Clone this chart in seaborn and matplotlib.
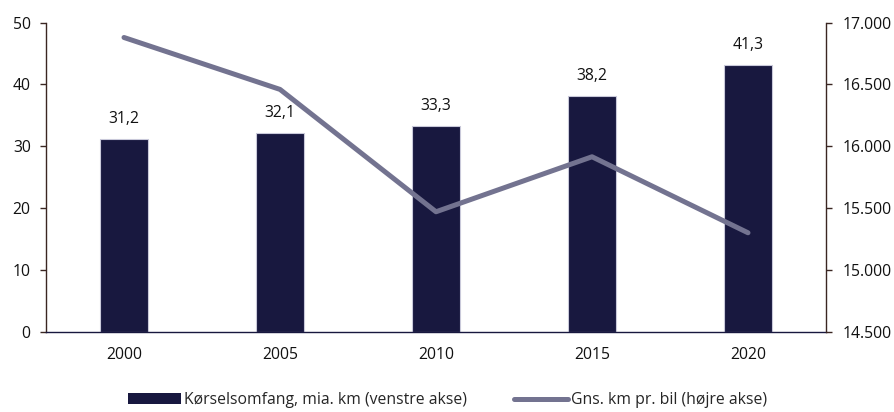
import matplotlib
matplotlib.use("Agg")
import matplotlib.pyplot as plt
import seaborn as sns
import pandas as pd
from matplotlib.patches import Patch
from matplotlib.lines import Line2D
from matplotlib.ticker import FuncFormatter, MultipleLocator

# Data
years = ["2000", "2005", "2010", "2015", "2020"]
driving_bn_km = [31.2, 32.1, 33.3, 38.2, 43.1]          # bar heights (left axis)
bar_texts = ["31,2", "32,1", "33,3", "38,2", "41,3"]     # labels as printed
km_per_car = [16880, 16460, 15470, 15915, 15300]        # line (right axis)

bar_color = "#18183f"
line_color = "#737390"
spine_color = "#3a2622"
fs = 11.3

sns.set_theme(style="white")
plt.rcParams["font.family"] = ["Open Sans", "DejaVu Sans"]

df = pd.DataFrame({"year": years, "driving": driving_bn_km, "km": km_per_car})

fig = plt.figure(figsize=(8.95, 4.12), dpi=100)
ax = fig.add_axes([0.0514, 0.195, 0.8715, 0.750])

sns.barplot(data=df, x="year", y="driving", color=bar_color, saturation=1,
            width=0.31, edgecolor="#c9c9da", linewidth=0.8, ax=ax)
ax.bar_label(ax.containers[0], labels=bar_texts, padding=8.5, fontsize=fs,
             color="#111111")

ax.set_ylim(0, 50)
ax.yaxis.set_major_locator(MultipleLocator(10))
ax.set_xlabel("")
ax.set_ylabel("")

ax2 = ax.twinx()
sns.pointplot(data=df, x="year", y="km", color=line_color, markers="",
              linewidth=3.6, ax=ax2)
ax2.lines[0].set_solid_capstyle("round")
ax2.set_ylim(14500, 17000)
ax2.yaxis.set_major_locator(MultipleLocator(500))
ax2.yaxis.set_major_formatter(FuncFormatter(lambda v, p: f"{int(v):,}".replace(",", ".")))
ax2.set_ylabel("")
ax2.set_xlabel("")
ax.set_xlim(-0.5, 4.5)

for a in (ax, ax2):
    for s in a.spines.values():
        s.set_visible(False)
ax.spines["left"].set_visible(True)
ax.spines["left"].set_color(spine_color)
ax.spines["left"].set_linewidth(1.0)
ax.spines["bottom"].set_visible(True)
ax.spines["bottom"].set_color(bar_color)
ax.spines["bottom"].set_linewidth(1.0)
ax2.spines["right"].set_visible(True)
ax2.spines["right"].set_color(spine_color)
ax2.spines["right"].set_linewidth(1.0)

ax.tick_params(axis="y", left=True, length=4, width=1, color=spine_color,
               pad=7, labelsize=fs, labelcolor="#111111")
ax.tick_params(axis="x", bottom=False, length=0, pad=11, labelsize=fs,
               labelcolor="#111111")
ax2.tick_params(axis="y", right=True, length=4, width=1, color=spine_color,
                pad=8, labelsize=fs, labelcolor="#111111")

handles = [
    Patch(facecolor=bar_color, edgecolor="none",
          label="Kørselsomfang, mia. km (venstre akse)"),
    Line2D([0], [0], color=line_color, linewidth=3.6, solid_capstyle="round",
           label="Gns. km pr. bil (højre akse)"),
]
fig.legend(handles=handles, loc="lower center", bbox_to_anchor=(0.5, -0.025),
           ncol=2, frameon=False, fontsize=fs, handlelength=3.4,
           handletextpad=0.2, columnspacing=3.0)

fig.savefig("out.png", dpi=100)
